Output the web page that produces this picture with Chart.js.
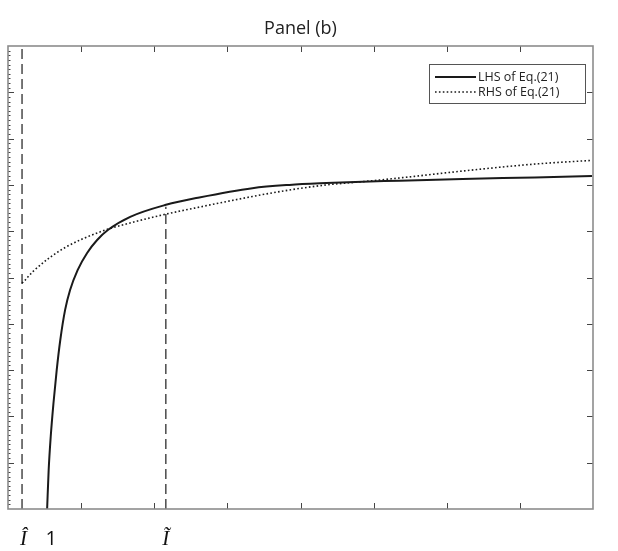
<!DOCTYPE html>
<html lang="en">
<head>
    <meta charset="UTF-8">
    <title>Panel (b)</title>
    <script src="https://cdn.jsdelivr.net/npm/chart.js"></script>
    <style>
        body { margin: 0; background: #fff; }
        canvas { display: block; }
    </style>
</head>
<body>
    <canvas id="chart" width="618" height="551"></canvas>

    <script>
        // LHS of Eq.(21): solid curve
        const lhsX = [0.535, 0.556, 0.584, 0.622, 0.666, 0.715, 0.781, 0.849, 0.952, 1.082, 1.219, 1.370, 1.671, 2.160, 2.616, 3.342, 3.849, 4.352, 4.849, 5.356, 6.215, 7.205, 7.986];
        const lhsY = [0, 0.84, 1.56, 2.29, 3.00, 3.65, 4.30, 4.73, 5.16, 5.53, 5.81, 6.03, 6.31, 6.57, 6.73, 6.93, 7.00, 7.04, 7.07, 7.09, 7.13, 7.16, 7.19];

        // RHS of Eq.(21): dotted curve
        const rhsX = [0.192, 0.219, 0.288, 0.356, 0.562, 0.795, 1.014, 1.342, 1.699, 2.164, 2.616, 3.342, 3.849, 4.356, 4.849, 5.356, 6.219, 7.205, 7.986];
        const rhsY = [4.88, 4.92, 5.04, 5.15, 5.42, 5.66, 5.83, 6.03, 6.19, 6.37, 6.52, 6.75, 6.89, 7.00, 7.07, 7.15, 7.30, 7.45, 7.53];

        // vertical dashed markers
        const hatX = 0.192;      // I hat
        const tildeX = 2.158;    // I tilde
        const hatTop = 10;
        const tildeTop = 6.53;

        const tickPos = [hatX + 0.02, 0.59, tildeX];
        const tickLabels = ['Î', '1', 'Ĩ'];
        const legendLabels = ['LHS of Eq.(21)', 'RHS of Eq.(21)'];

        const xMajor = [1, 2, 3, 4, 5, 6, 7];
        const yMajor = [1, 2, 3, 4, 5, 6, 7, 8, 9];

        const toPts = (xs, ys) => xs.map((x, i) => ({ x: x, y: ys[i] }));

        // box, inward ticks and legend, MATLAB style
        const framePlugin = {
            id: 'frame',
            afterDraw(chart) {
                const ctx = chart.ctx;
                const a = chart.chartArea;
                const xs = chart.scales.x, ys = chart.scales.y;
                ctx.save();
                ctx.strokeStyle = '#444';
                ctx.lineWidth = 1;
                ctx.beginPath();
                xMajor.forEach(v => {
                    const px = Math.round(xs.getPixelForValue(v)) + 0.5;
                    ctx.moveTo(px, a.bottom); ctx.lineTo(px, a.bottom - 6);
                    ctx.moveTo(px, a.top); ctx.lineTo(px, a.top + 6);
                });
                yMajor.forEach(v => {
                    const py = Math.round(ys.getPixelForValue(v)) + 0.5;
                    ctx.moveTo(a.left, py); ctx.lineTo(a.left + 6, py);
                    ctx.moveTo(a.right, py); ctx.lineTo(a.right - 6, py);
                });
                for (let i = 1; i < 100; i++) {
                    if (i % 10 === 0) continue;
                    const py = Math.round(ys.getPixelForValue(i / 10)) + 0.5;
                    ctx.moveTo(a.left, py); ctx.lineTo(a.left + 2.5, py);
                }
                ctx.stroke();

                ctx.strokeStyle = '#8c8c8c';
                ctx.lineWidth = 1.6;
                ctx.strokeRect(a.left, a.top, a.right - a.left, a.bottom - a.top);

                // legend
                const lx = 429, ly = 64, lw = 156, lh = 39;
                ctx.fillStyle = '#fff';
                ctx.fillRect(lx, ly, lw, lh);
                ctx.strokeStyle = '#555';
                ctx.lineWidth = 1;
                ctx.strokeRect(lx + 0.5, ly + 0.5, lw, lh);
                const rows = [77, 92];
                const ds = chart.data.datasets;
                rows.forEach((ry, i) => {
                    ctx.strokeStyle = ds[i].borderColor;
                    ctx.lineWidth = ds[i].borderWidth;
                    ctx.setLineDash(ds[i].borderDash || []);
                    ctx.beginPath();
                    ctx.moveTo(435, ry); ctx.lineTo(476, ry);
                    ctx.stroke();
                    ctx.setLineDash([]);
                    ctx.fillStyle = '#222';
                    ctx.font = '12.5px "Open Sans", sans-serif';
                    ctx.textBaseline = 'middle';
                    ctx.fillText(legendLabels[i], 478, ry);
                });
                ctx.restore();
            }
        };

        new Chart(document.getElementById('chart'), {
            type: 'line',
            data: {
                datasets: [{
                    label: legendLabels[0],
                    data: toPts(lhsX, lhsY),
                    borderColor: '#1a1a1a',
                    borderWidth: 2,
                    pointRadius: 0,
                    cubicInterpolationMode: 'monotone'
                }, {
                    label: legendLabels[1],
                    data: toPts(rhsX, rhsY),
                    borderColor: '#1a1a1a',
                    borderWidth: 1.6,
                    borderDash: [1.6, 2.3],
                    pointRadius: 0,
                    cubicInterpolationMode: 'monotone'
                }, {
                    data: [{ x: hatX, y: 0 }, { x: hatX, y: hatTop }],
                    borderColor: '#555',
                    borderWidth: 1.6,
                    borderDash: [10, 5],
                    pointRadius: 0
                }, {
                    data: [{ x: tildeX, y: 0 }, { x: tildeX, y: tildeTop }],
                    borderColor: '#555',
                    borderWidth: 1.6,
                    borderDash: [10, 5],
                    pointRadius: 0
                }]
            },
            options: {
                responsive: false,
                animation: false,
                layout: { padding: { left: 8, right: 25, top: 0, bottom: 0 } },
                plugins: {
                    legend: { display: false },
                    tooltip: { enabled: false },
                    title: {
                        display: true,
                        text: 'Panel (b)',
                        color: '#222',
                        font: { family: 'Open Sans', size: 18, weight: 'normal' },
                        padding: { top: 18, bottom: 6.4 }
                    }
                },
                scales: {
                    x: {
                        type: 'linear',
                        min: 0,
                        max: 8,
                        grid: { display: false, drawTicks: false },
                        border: { display: false },
                        afterBuildTicks: scale => {
                            scale.ticks = tickPos.map(v => ({ value: v }));
                        },
                        afterFit: scale => { scale.height = 42; },
                        ticks: {
                            autoSkip: false,
                            maxRotation: 0,
                            padding: 18,
                            color: '#111',
                            callback: (v, i) => tickLabels[i],
                            font: c => c.index === 1
                                ? { family: 'Open Sans', size: 20 }
                                : { family: 'Liberation Serif', size: 21, style: 'italic' }
                        }
                    },
                    y: {
                        min: 0,
                        max: 10,
                        display: false
                    }
                }
            },
            plugins: [framePlugin]
        });
    </script>
</body>
</html>
